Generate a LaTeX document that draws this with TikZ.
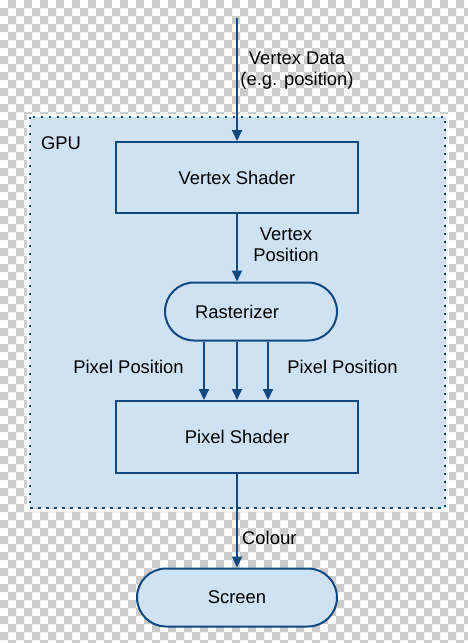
\documentclass[tikz,border=0pt]{standalone}
\usepackage{fontspec}
\setmainfont{Liberation Sans}
\usetikzlibrary{arrows.meta,shapes.misc}
\definecolor{lblue}{RGB}{207,226,243}
\definecolor{dblue}{RGB}{16,73,128}
\definecolor{chk}{RGB}{204,204,204}
\begin{document}
\begin{tikzpicture}[x=1pt,y=-1pt,
  txt/.style={font=\fontsize{18.4pt}{21.5pt}\selectfont, text=black, inner sep=0pt},
  box/.style={draw=dblue, fill=lblue, line width=2pt, minimum width=242pt, minimum height=71pt, txt},
  term/.style={rounded rectangle, draw=dblue, fill=lblue, line width=2pt, minimum height=58pt, txt},
  arr/.style={draw=dblue, line width=2pt, -{Triangle[length=11pt,width=10pt]}},
  lab/.style={txt, align=center}]
\useasboundingbox (0,0) rectangle (468,643);
% transparency checkerboard
\begin{scope}
\clip (0,0) rectangle (468,643);
\fill[white] (0,0) rectangle (468,643);
\fill[chk]
  \foreach \j in {0,2,...,80}{\foreach \i in {1,3,...,59}{(\i*8,\j*8) rectangle ++(8,8)}}
  \foreach \j in {1,3,...,81}{\foreach \i in {0,2,...,58}{(\i*8,\j*8) rectangle ++(8,8)}};
\end{scope}
% GPU region
\node[fill=lblue, minimum width=415pt, minimum height=391pt, inner sep=0pt] (gpu) at (237.5,312.5) {};
\draw[white, line width=3pt] (28,115) rectangle (447,510);
\draw[dblue, line width=2.2pt, dash pattern=on 2.2pt off 5.8pt] (gpu.north west) rectangle (gpu.south east);
\node[txt] (gputxt) at (61,143) {GPU};
% nodes
\node[box] (vs) at (237,177.5) {Vertex Shader};
\node[term, minimum width=172pt] (rast) at (251,311.5) {};
\node[txt] (rasttxt) at (237,311.5) {Rasterizer};
\node[box, minimum height=72pt] (ps) at (237,437) {Pixel Shader};
\node[term, minimum width=200pt] (scr) at (237,597.5) {Screen};
% connectors
\coordinate (in) at (237,18);
\draw[arr] (in) -- (vs.north);
\draw[arr] (vs.south) -- (vs.south |- rast.north);
\coordinate (a1) at (204,0);
\coordinate (a3) at (268,0);
\draw[arr] (a1 |- rast.south) -- (a1 |- ps.north);
\draw[arr] (vs.south |- rast.south) -- (ps.north);
\draw[arr] (a3 |- rast.south) -- (a3 |- ps.north);
\draw[arr] (ps.south) -- (scr.north);
% labels
\node[lab] (l1) at (297,70.5) {Vertex Data\\(e.g. position)};
\node[lab] (l2) at (286,245) {Vertex\\Position};
\node[lab] (l3) at (128.5,367) {Pixel Position};
\node[lab] (l4) at (342.5,367) {Pixel Position};
\node[txt, anchor=west] (l5) at (242,538) {Colour};
\end{tikzpicture}
\end{document}
